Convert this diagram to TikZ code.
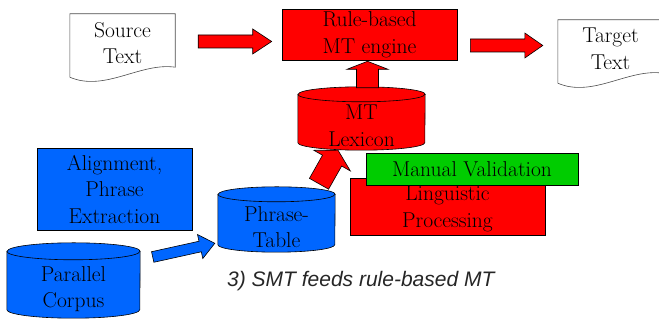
\documentclass[tikz,border=0pt]{standalone}
\usepackage{fontspec}
\newfontfamily\capfont{Liberation Sans}
\usetikzlibrary{calc}
\usetikzlibrary{backgrounds}
\definecolor{mtred}{RGB}{255,0,0}
\definecolor{mtblue}{RGB}{0,102,255}
\definecolor{mtgreen}{RGB}{0,204,0}

\newcommand{\blockarrow}[6]{%
  \coordinate (headbase) at ($(#3)!#6!(#2)$);
  \filldraw[fill=#1, draw=black, line width=0.6pt]
    ($(#2)!#4!90:(#3)$) -- ($(headbase)!#4!90:(#3)$) -- ($(headbase)!#5!90:(#3)$)
    -- (#3) -- ($(headbase)!#5!-90:(#3)$) -- ($(headbase)!#4!-90:(#3)$)
    -- ($(#2)!#4!-90:(#3)$) -- cycle;
}
\newcommand{\drawcyl}[4]{%
  \begin{scope}[on background layer]
  \filldraw[fill=#2, draw=black, line width=0.6pt]
    ([yshift=#4]#1.north west) -- ([yshift=#4]#1.south west)
    arc[start angle=180, end angle=360, x radius=#3, y radius=#4]
    -- ([yshift=#4]#1.north east)
    arc[start angle=0, end angle=180, x radius=#3, y radius=#4] -- cycle;
  \draw[line width=0.6pt] ([yshift=#4]#1.north west)
    arc[start angle=180, end angle=360, x radius=#3, y radius=#4];
  \end{scope}
}
\newcommand{\docpage}[1]{%
  \draw[black!70, line width=0.6pt] (#1.north west) -- (#1.north east)
    -- ([yshift=5pt]#1.south east) .. controls +(-35,5) and +(35,-15) .. ([yshift=-5pt]#1.south west)
    -- cycle;
}

\begin{document}
\begin{tikzpicture}[x=1pt, y=1pt,
  txt/.style={font=\rmfamily\fontsize{21.5}{26.5}\selectfont, align=center, inner sep=0pt},
  box/.style={txt, rectangle, draw=black, line width=0.6pt}]
\useasboundingbox (0,0) rectangle (659,320);

\node[txt, minimum width=105pt, minimum height=58pt] (ST) at (122.5,277) {Source\\Text};
\docpage{ST}
\node[box, fill=mtred, minimum width=175pt, minimum height=51pt] (RB) at (369.5,285.5) {Rule-based\\MT engine};
\node[txt, minimum width=105pt, minimum height=58pt] (TT) at (610.5,271) {Target\\Text};
\docpage{TT}

\node[txt, minimum width=127pt, minimum height=48pt] (LEX) at (361.5,194) {MT\\Lexicon};
\drawcyl{LEX}{mtred}{63.5pt}{7.5pt}
\node[box, fill=mtred, minimum width=195pt, minimum height=57pt, text depth=0pt] (LP) at (447.5,113.5) {Linguistic\\Processing};
\node[box, fill=mtgreen, minimum width=212pt, minimum height=32pt] (MV) at (472,151) {Manual Validation};

\node[box, fill=mtblue, minimum width=155pt, minimum height=82pt] (APE) at (114.5,131) {Alignment,\\Phrase\\Extraction};
\node[txt, minimum width=117pt, minimum height=50pt] (PT) at (276.5,93) {Phrase-\\Table};
\drawcyl{PT}{mtblue}{58.5pt}{7.5pt}
\node[txt, minimum width=133pt, minimum height=58pt] (PC) at (73.5,31) {Parallel\\Corpus};
\drawcyl{PC}{mtblue}{66.5pt}{8.5pt}

\node[anchor=base west, inner sep=0pt, text=black!85, font=\capfont\itshape\fontsize{21}{25}\selectfont] (CAP) at (227,33) {3) SMT feeds rule-based MT};

\coordinate (a1s) at ($(ST.east)+(23,1.5)$);
\coordinate (a1e) at ($(a1s -| RB.west)+(-10,0)$);
\coordinate (a2s) at ($(RB.east)+(13,-11)$);
\coordinate (a2e) at ($(a2s -| TT.west)+(-15,0)$);
\coordinate (a3s) at ($(LEX.north)+(6,14)$);
\coordinate (a3e) at ($(RB.south)+(-2,-1)$);
\coordinate (a4s) at ($(PT.north)+(42.5,18)$);
\coordinate (a4e) at ($(LEX.south)+(-23.5,0)$);
\coordinate (a5s) at ($(PC.east)+(12.5,32)$);
\coordinate (a5e) at ($(PT.west)+(-3,-16.3)$);
\blockarrow{mtred}{a1s}{a1e}{6.5pt}{12.5pt}{19pt}
\blockarrow{mtred}{a2s}{a2e}{6.5pt}{12.5pt}{18pt}
\blockarrow{mtred}{a3s}{a3e}{11pt}{20.5pt}{8pt}
\blockarrow{mtred}{a4s}{a4e}{11pt}{21pt}{12pt}
\blockarrow{mtblue}{a5s}{a5e}{5.4pt}{12.3pt}{15pt}
\end{tikzpicture}
\end{document}
